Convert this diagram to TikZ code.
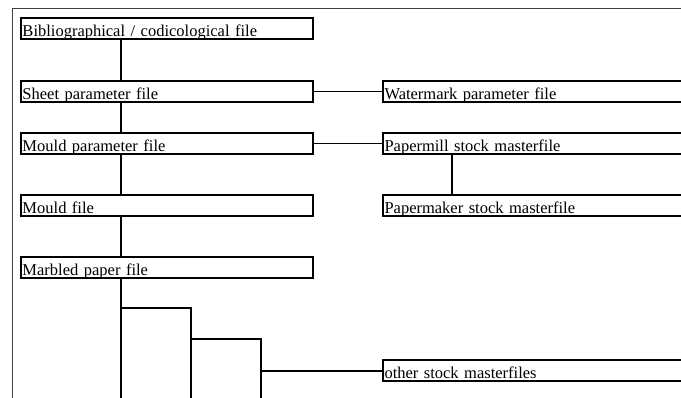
\documentclass[tikz,border=0pt]{standalone}
\usepackage{fontspec}
\setmainfont{Liberation Serif}
\usetikzlibrary{positioning}
\tikzset{
    filebox/.style={draw, line width=2pt, rectangle, anchor=north west,
        inner xsep=1.5pt, inner ysep=1pt, text height=17.5pt, text depth=1.5pt,
        align=left, font=\fontsize{16.5}{18}\selectfont},
    leftbox/.style={filebox, text width=289pt},
    rightbox/.style={filebox, text width=317pt},
    link/.style={line width=1.3pt}
}
\begin{document}
\begin{tikzpicture}[x=1pt,y=-1pt]
	\useasboundingbox (0,0) rectangle (681,398);
	\clip (0,0) rectangle (681,398);
	\draw[line width=1pt, black!75] (12,420) -- (12,9) -- (700,9);
	% left column
	\node[leftbox] (biblio) at (20,17) {Bibliographical / codicological file};
	\node[leftbox] (sheet) at (20,80) {Sheet parameter file};
	\node[leftbox] (mouldpar) at (20,132) {Mould parameter file};
	\node[leftbox] (mould) at (20,194.5) {Mould file};
	\node[leftbox] (marbled) at (20,256) {Marbled paper file};
	% right column
	\node[rightbox] (watermark) at (382,80) {Watermark parameter file};
	\node[rightbox] (papermill) at (382,132) {Papermill stock masterfile};
	\node[rightbox] (papermaker) at (382,194.5) {Papermaker stock masterfile};
	\node[rightbox] (otherstock) at (382,359.5) {other stock masterfiles};
	\coordinate (spine) at (121,0);
	\coordinate (step1) at (191,308);
	\coordinate (step2) at (261,339);
	\coordinate (bottom) at (0,400);
	\draw[link] (biblio.south -| spine) -- (sheet.north -| spine);
	\draw[link] (sheet.south -| spine) -- (mouldpar.north -| spine);
	\draw[link] (mouldpar.south -| spine) -- (mould.north -| spine);
	\draw[link] (mould.south -| spine) -- (marbled.north -| spine);
	\draw[link] (marbled.south -| spine) -- (bottom -| spine);
	\draw[link] (sheet.east) -- (watermark.west);
	\draw[link] (mouldpar.east) -- (papermill.west);
	\draw[link] ([xshift=70pt]papermill.south west) -- ([xshift=70pt]papermaker.north west);
	\draw[link] (step1 -| spine) -- (step1) -- (bottom -| step1);
	\draw[link] (step2 -| step1) -- (step2) -- (bottom -| step2);
	\draw[link] (otherstock.west -| step2) -- (otherstock.west);
\end{tikzpicture}
\end{document}
